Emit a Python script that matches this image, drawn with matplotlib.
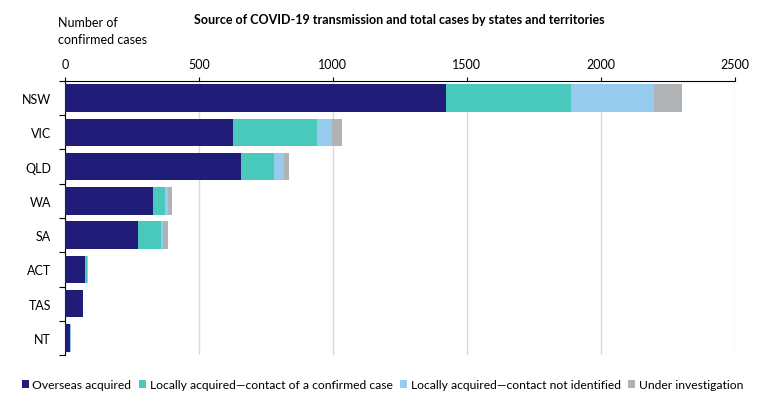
import numpy as np
import matplotlib
matplotlib.use("Agg")
import matplotlib.pyplot as plt
from matplotlib.ticker import FixedLocator

plt.rcParams["font.family"] = ["Lato", "DejaVu Sans"]

# ── data ──────────────────────────────────────────────
states = ["NSW", "VIC", "QLD", "WA", "SA", "ACT", "TAS", "NT"]
overseas = [1421, 627, 657, 330, 272, 73, 66, 19]
local_contact = [467, 313, 123, 43, 86, 9, 1, 0]
local_unknown = [310, 56, 37, 10, 8, 5, 2, 2]
investigating = [104, 38, 19, 16, 18, 0, 0, 0]

series = [
    ("Overseas acquired", overseas, "#201c78"),
    ("Locally acquired\u2014contact of a confirmed case", local_contact, "#48c9bc"),
    ("Locally acquired\u2014contact not identified", local_unknown, "#97cbed"),
    ("Under investigation", investigating, "#b0b3b6"),
]

# ── figure ────────────────────────────────────────────
fig = plt.figure(figsize=(7.6, 4.14), dpi=100)
ax = fig.add_axes([0.0855, 0.140, 0.8815, 0.662])

y = np.arange(len(states))
left = np.zeros(len(states))
for label, vals, col in series:
    ax.barh(y, vals, left=left, height=0.8, color=col, label=label, zorder=3)
    left += np.array(vals)

ax.set_ylim(len(states) - 0.5, -0.5)
ax.set_xlim(0, 2500)
ax.set_yticks(y)
ax.set_yticklabels(states, fontsize=9)
ax.yaxis.set_minor_locator(FixedLocator(np.arange(-0.5, len(states), 1)))
ax.tick_params(axis="y", which="major", length=0, pad=10)
ax.tick_params(axis="y", which="minor", length=4, width=0.8)

ax.xaxis.tick_top()
ax.set_xticks([0, 500, 1000, 1500, 2000, 2500])
ax.tick_params(axis="x", length=3, width=0.8, pad=5, labelsize=9)
ax.grid(axis="x", color="#d9d9d9", linewidth=1, zorder=0)

for s in ("right", "bottom"):
    ax.spines[s].set_visible(False)
ax.spines["top"].set_linewidth(0.8)
ax.spines["left"].set_linewidth(0.8)

fig.text(0.076, 0.958, "Number of\nconfirmed cases", fontsize=9,
         ha="left", va="top", linespacing=1.45)
fig.text(0.525, 0.952, "Source of COVID-19 transmission and total cases by states and territories",
         fontsize=9, fontweight="bold", ha="center", va="center")

fig.legend(loc="center", bbox_to_anchor=(0.503, 0.068), ncol=4, frameon=False,
           fontsize=8.7, handlelength=0.6, handleheight=0.6, handletextpad=0.3,
           columnspacing=0.6)

fig.savefig("out.png", dpi=100)
